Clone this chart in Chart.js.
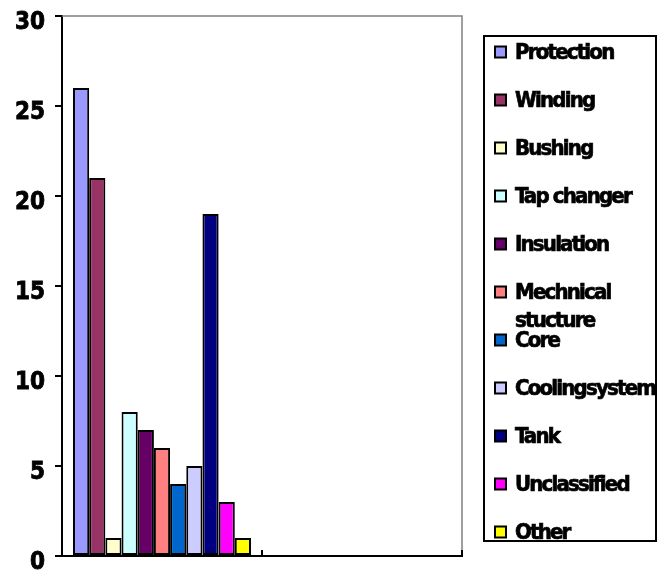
<!DOCTYPE html>
<html>
<head>
<meta charset="utf-8">
<script src="https://cdn.jsdelivr.net/npm/chart.js@4/dist/chart.umd.min.js"></script>
<style>
  html, body { margin: 0; padding: 0; background: #fff; }
  canvas { display: block; }
</style>
</head>
<body>
<canvas id="c" width="669" height="570"></canvas>
<script>
// Two category slots on the x axis; only the first one carries bars.
const categories = ['', ''];

// Failure causes (one series each) and their counts.
const seriesNames = [
  'Protection', 'Winding', 'Bushing', 'Tap changer', 'Insulation',
  'Mechnical stucture', 'Core', 'Coolingsystem', 'Tank', 'Unclassified', 'Other'
];
const seriesValues = [26, 21, 1, 8, 7, 6, 4, 5, 19, 3, 1];
const seriesColors = [
  '#9999FF', '#993366', '#FFFFCC', '#CCFFFF', '#660066',
  '#FF8080', '#0066CC', '#CCCCFF', '#000080', '#FF00FF', '#FFFF00'
];

// Value axis tick labels.
const yTicks = [0, 5, 10, 15, 20, 25, 30];

const datasets = seriesNames.map((name, i) => ({
  label: name,
  data: [seriesValues[i], null],
  backgroundColor: seriesColors[i],
  borderColor: '#000',
  borderWidth: 2,
  borderSkipped: false,
  categoryPercentage: 0.89,
  barPercentage: 1.0
}));

// Frame lines and the small upward ticks between categories.
const framePlugin = {
  id: 'frame',
  afterDraw(chart) {
    const { ctx, chartArea: a } = chart;
    ctx.save();
    ctx.strokeStyle = '#808080';
    ctx.lineWidth = 1.5;
    ctx.beginPath();
    ctx.moveTo(a.left, a.top);
    ctx.lineTo(a.right, a.top);
    ctx.lineTo(a.right, a.bottom);
    ctx.stroke();

    ctx.strokeStyle = '#000';
    ctx.lineWidth = 2;
    const n = chart.data.labels.length;
    const step = (a.right - a.left) / n;
    ctx.beginPath();
    for (let i = 1; i <= n; i++) {
      const x = Math.round(a.left + step * i);
      ctx.moveTo(x, a.bottom);
      ctx.lineTo(x, a.bottom - 6);
    }
    ctx.stroke();
    ctx.restore();
  }
};

// Boxed legend on the right, one row per series.
const legendPlugin = {
  id: 'boxLegend',
  afterDraw(chart) {
    const { ctx } = chart;
    const box = { x: 484, y: 36, w: 172, h: 505 };
    ctx.save();
    ctx.strokeStyle = '#000';
    ctx.lineWidth = 2;
    ctx.strokeRect(box.x, box.y, box.w, box.h);

    ctx.font = 'bold 22px "DejaVu Sans Condensed", "DejaVu Sans"';
    ctx.letterSpacing = '-1.8px';
    ctx.textBaseline = 'middle';
    ctx.textAlign = 'left';
    const maxW = 145;
    chart.data.datasets.forEach((ds, i) => {
      const cy = 52 + 48 * i;
      ctx.fillStyle = ds.backgroundColor;
      ctx.fillRect(495, cy - 5.5, 11, 11);
      ctx.lineWidth = 2;
      ctx.strokeStyle = '#000';
      ctx.strokeRect(495, cy - 5.5, 11, 11);

      // wrap label words when wider than the legend column
      const words = ds.label.split(' ');
      const lines = [];
      let cur = '';
      words.forEach(w => {
        const t = cur ? cur + ' ' + w : w;
        if (cur && ctx.measureText(t).width > maxW) { lines.push(cur); cur = w; }
        else cur = t;
      });
      lines.push(cur);
      ctx.fillStyle = '#000';
      ctx.lineWidth = 0.7;
      lines.forEach((ln, k) => {
        ctx.fillText(ln, 515, cy + 1 + 28 * k);
        ctx.strokeText(ln, 515, cy + 1 + 28 * k);
      });
    });
    ctx.restore();
  }
};

new Chart(document.getElementById('c'), {
  type: 'bar',
  data: { labels: categories, datasets },
  options: {
    responsive: false,
    animation: false,
    layout: { padding: { left: 15, top: 16, right: 207, bottom: 14 } },
    plugins: { legend: { display: false }, tooltip: { enabled: false } },
    scales: {
      x: {
        grid: { display: false },
        border: { display: true, color: '#000', width: 2 },
        ticks: { display: false },
        afterFit: s => { s.height = 0; s.paddingLeft = 0; s.paddingRight = 0; }
      },
      y: {
        min: 0,
        max: 30,
        afterBuildTicks: s => { s.ticks = yTicks.map(v => ({ value: v })); },
        afterFit: s => { s.width = 47; s.paddingTop = 0; s.paddingBottom = 0; },
        ticks: {
          color: '#000',
          font: { family: '"DejaVu Sans Condensed", "DejaVu Sans"', size: 24, weight: 'bold' },
          textStrokeColor: '#000',
          textStrokeWidth: 0.8,
          padding: 10,
          labelOffset: 7
        },
        grid: { drawOnChartArea: false, drawTicks: true, tickLength: 7, color: '#000', lineWidth: 2 },
        border: { color: '#000', width: 2 }
      }
    }
  },
  plugins: [framePlugin, legendPlugin]
});
</script>
</body>
</html>
